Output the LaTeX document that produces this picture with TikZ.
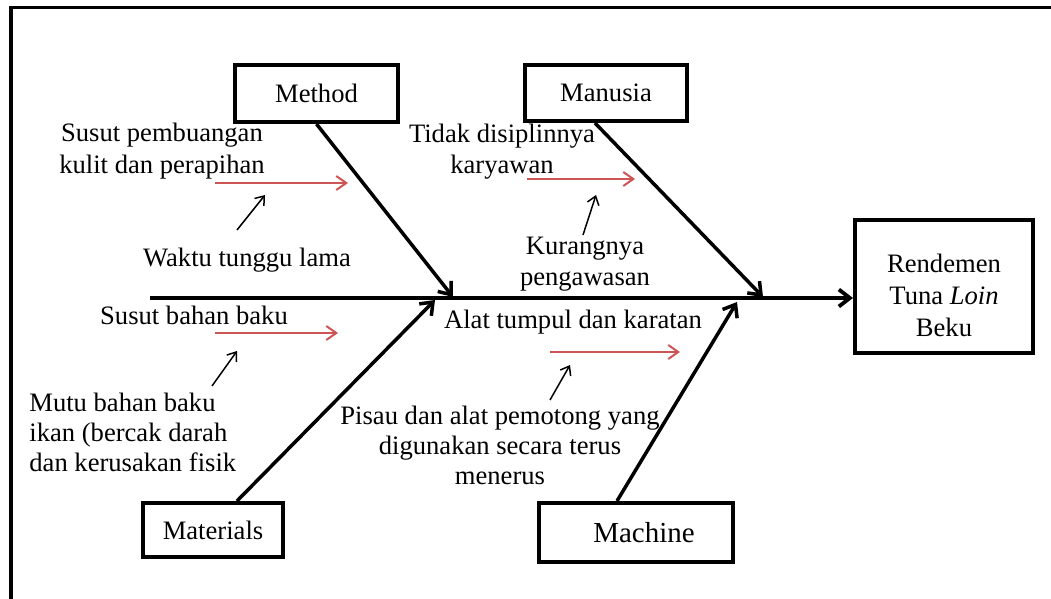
\documentclass[tikz,border=0pt]{standalone}
\usepackage{fontspec}
\setmainfont{Liberation Serif}
\usetikzlibrary{arrows.meta,calc}
\definecolor{redarr}{RGB}{205,85,85}
\begin{document}
\begin{tikzpicture}[x=0.5pt,y=-0.5pt,
  box/.style={draw,line width=2pt,inner sep=0pt,font=\fontsize{13.3}{16}\selectfont},
  lbl/.style={align=center,inner sep=0pt,font=\fontsize{13.3}{15.5}\selectfont},
  bone/.style={line width=1.75pt,-{Straight Barb[length=5.5pt,width=8.5pt]}},
  redarrow/.style={draw=redarr,line width=1pt,-{Straight Barb[length=5pt,width=7pt]}},
  smallarrow/.style={line width=0.75pt,-{Straight Barb[length=4pt,width=6pt]}}]
\useasboundingbox (0,0) rectangle (1051,599);
\fill[white] (0,0) rectangle (1051,599);
% frame
\draw[line width=1.75pt] (11,599) -- (11,7.5) -- (1051,7.5);
% boxes
\node[box,minimum width=81.5pt,minimum height=28.5pt] (method) at (316.5,93.5) {\raisebox{-1.5pt}{Method}};
\node[box,minimum width=81pt,minimum height=28pt] (manusia) at (606,93) {\raisebox{-1pt}{Manusia}};
\node[box,minimum width=70pt,minimum height=27pt] (materials) at (213,530) {Materials};
\node[box,minimum width=97pt,minimum height=29.5pt,font=\fontsize{14.5}{16}\selectfont] (machine) at (636,532.5) {\hspace*{8pt}Machine};
\node[box,minimum width=89pt,minimum height=66.5pt] (rend) at (944,286.5) {};
\node[lbl,font=\fontsize{13.3}{16}\selectfont] (rendtxt) at (944,295) {Rendemen\\Tuna \textit{Loin}\\Beku};
% spine
\coordinate (spineL) at (150,298);
\draw[line width=1.9pt,-{Straight Barb[length=5.5pt,width=8.5pt]}] (spineL) -- (spineL -| rend.west);
% bone end points
\coordinate (tMethod) at (453,297);
\coordinate (tManusia) at (763,297);
\coordinate (tMaterials) at (435,300);
\coordinate (tMachine) at (737,302);
\draw[bone] (method.south) -- (tMethod);
\draw[bone] ($(manusia.south)+(-11,0)$) -- (tManusia);
\draw[bone] ($(materials.north)+(24,0)$) -- (tMaterials);
\draw[bone] ($(machine.north)+(-19,0)$) -- (tMachine);
% labels
\node[lbl,font=\fontsize{13.3}{16}\selectfont] (l1) at (162,151) {Susut pembuangan\\kulit dan perapihan};
\node[lbl] (l2) at (247,260) {Waktu tunggu lama};
\node[lbl] (l3) at (502,151.5) {Tidak disiplinnya\\karyawan};
\node[lbl] (l4) at (585,264.5) {Kurangnya\\pengawasan};
\node[lbl] (l5) at (194,315) {Susut bahan baku};
\node[lbl,align=left,anchor=west,font=\fontsize{13.3}{15}\selectfont] (l6) at (29,432) {Mutu bahan baku\\ikan (bercak darah\\dan kerusakan fisik};
\node[lbl] (l7) at (573,322) {Alat tumpul dan karatan};
\node[lbl,font=\fontsize{13.3}{15}\selectfont] (l8) at (500,445) {Pisau dan alat pemotong yang\\digunakan secara terus\\menerus};
% red arrows
\coordinate (r1a) at (215,183); \coordinate (r1b) at (348,183);
\coordinate (r2a) at (527,179); \coordinate (r2b) at (635,179);
\coordinate (r3a) at (215,333); \coordinate (r3b) at (338,333);
\coordinate (r4a) at (550,352); \coordinate (r4b) at (680,352);
\draw[redarrow] (r1a) -- (r1b);
\draw[redarrow] (r2a) -- (r2b);
\draw[redarrow] (r3a) -- (r3b);
\draw[redarrow] (r4a) -- (r4b);
% small black arrows
\coordinate (b1a) at (237,230); \coordinate (b1b) at (265,195);
\coordinate (b2a) at (583,235); \coordinate (b2b) at (596,195);
\coordinate (b3a) at (212,386); \coordinate (b3b) at (237,351);
\coordinate (b4a) at (550,400); \coordinate (b4b) at (570,365);
\draw[smallarrow] (b1a) -- (b1b);
\draw[smallarrow] (b2a) -- (b2b);
\draw[smallarrow] (b3a) -- (b3b);
\draw[smallarrow] (b4a) -- (b4b);
\end{tikzpicture}
\end{document}
